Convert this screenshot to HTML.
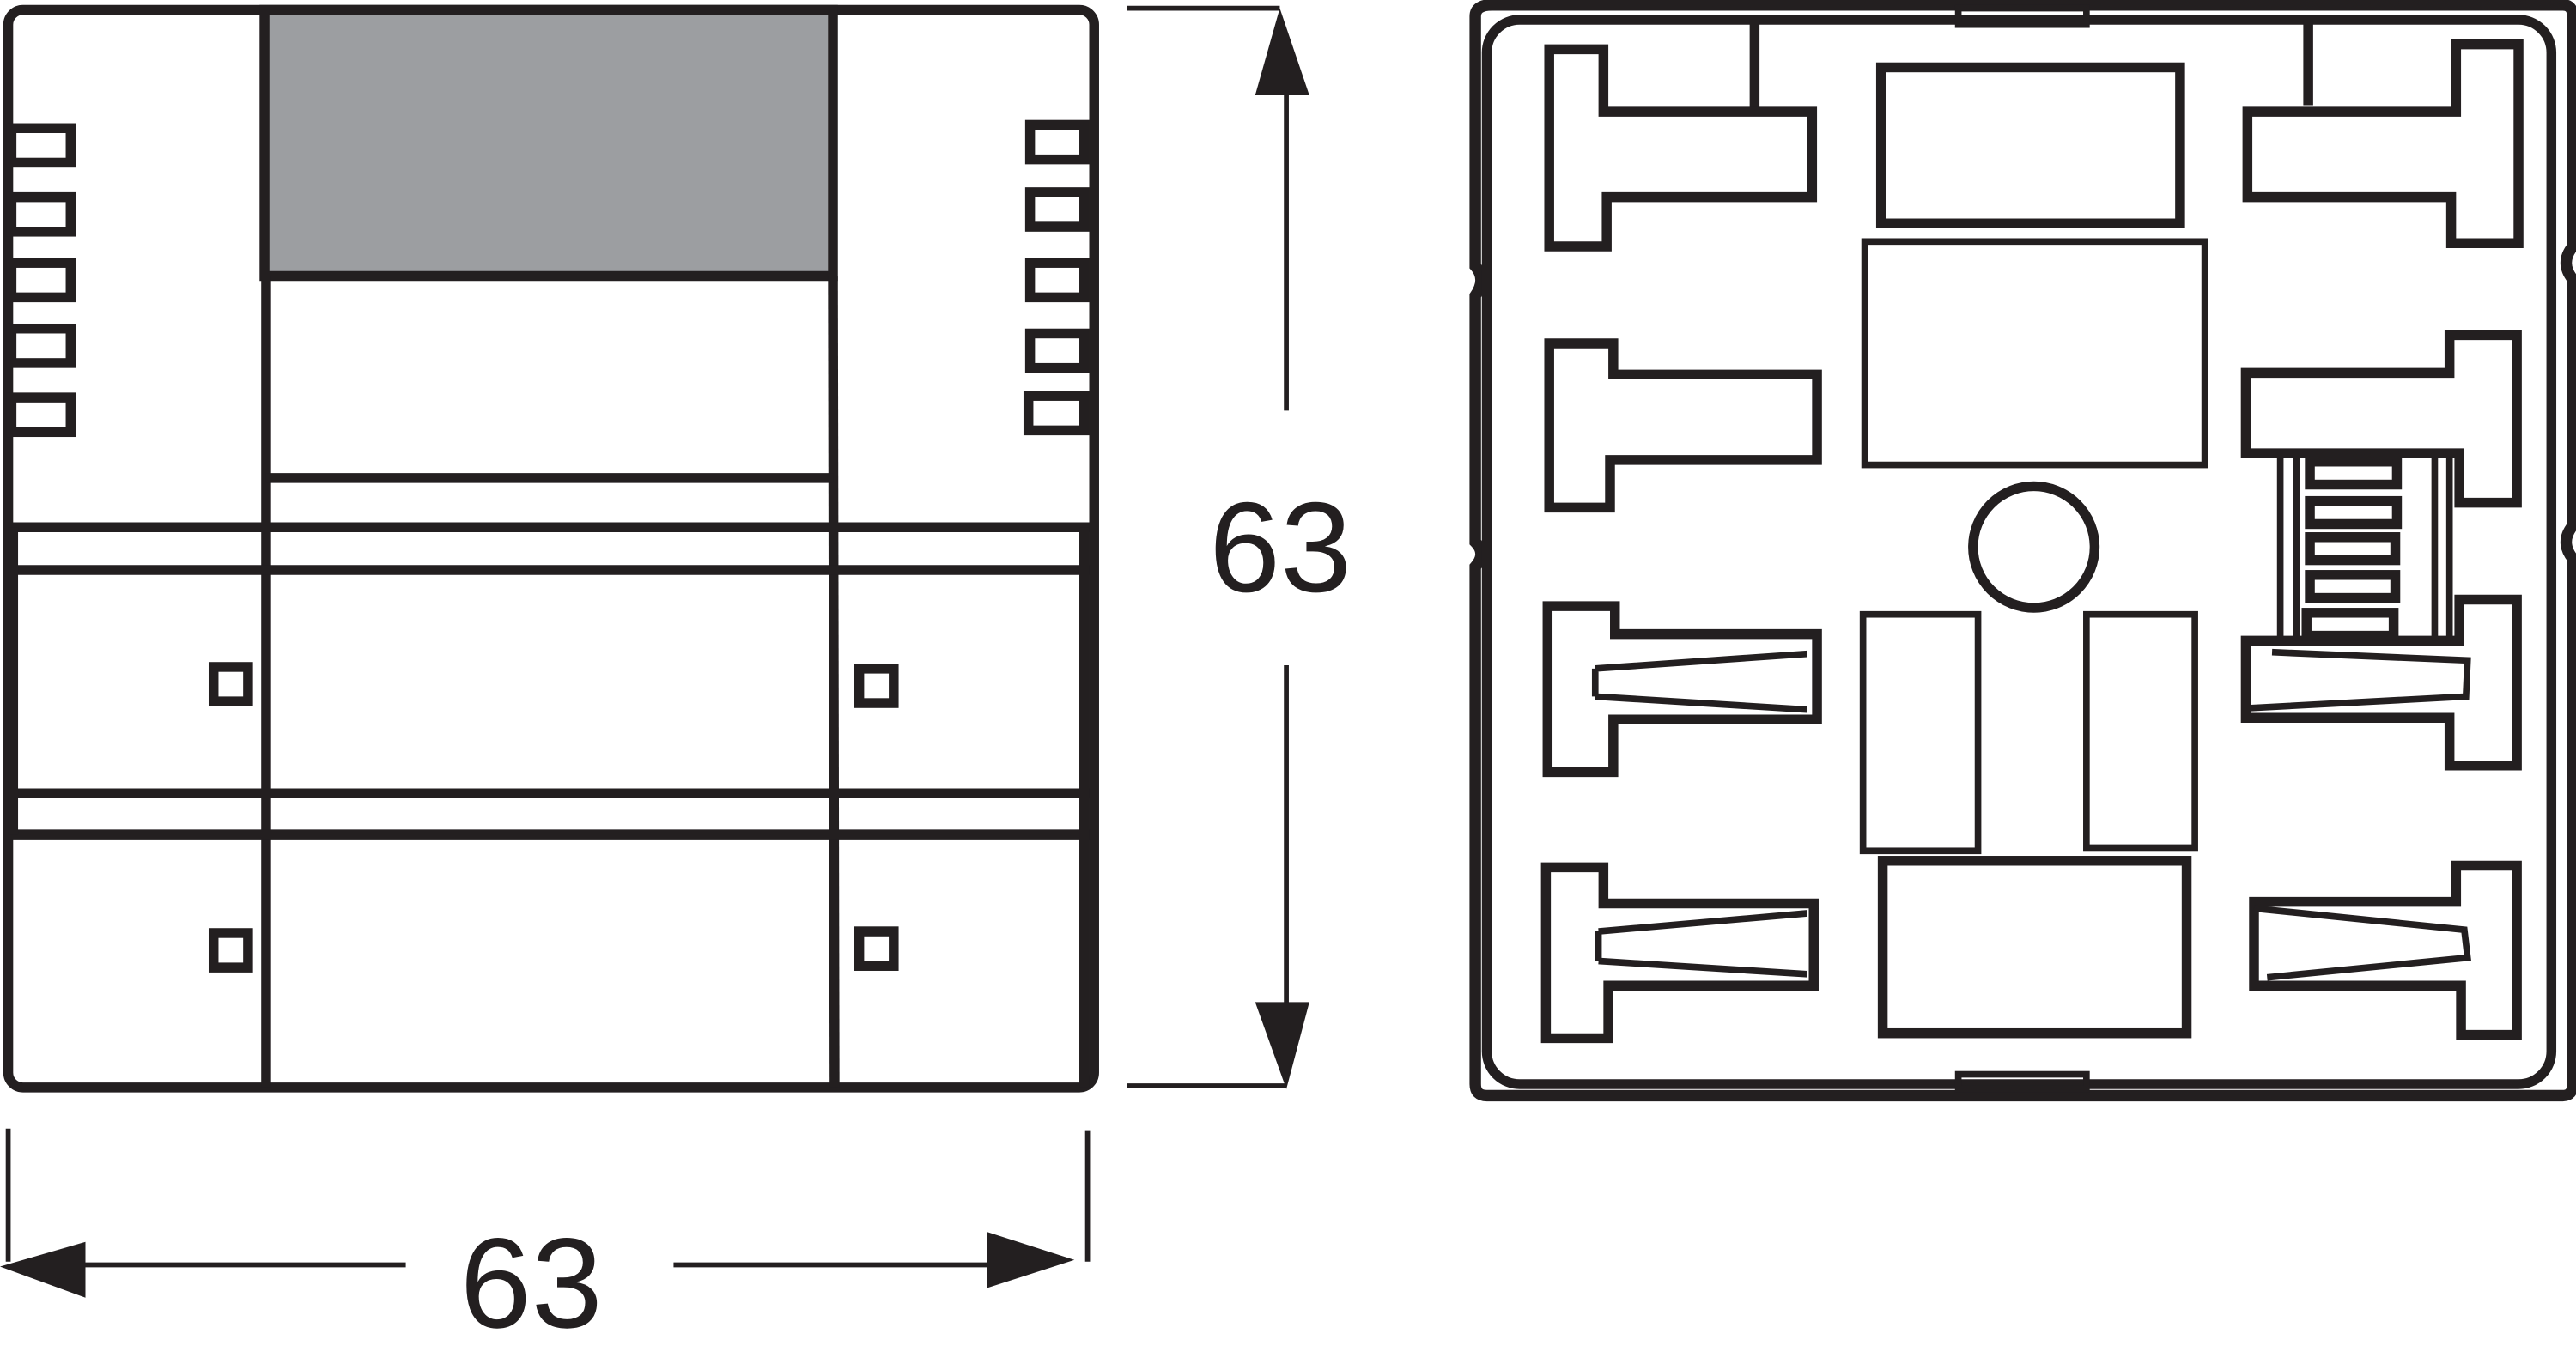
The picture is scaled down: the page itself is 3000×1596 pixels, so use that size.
<!DOCTYPE html>
<html><head><meta charset="utf-8"><style>
html,body{margin:0;padding:0;background:#fff;width:3000px;height:1596px;overflow:hidden}
svg{display:block}
text{font-family:"Liberation Sans",Arial,sans-serif}
</style></head><body>
<svg width="3000" height="1596" viewBox="0 0 1568 834" preserveAspectRatio="none" xmlns="http://www.w3.org/2000/svg">
<g fill="none" stroke="#231f20" stroke-width="6">
<rect x="5" y="6" width="661" height="656" rx="9"/>
<rect x="161" y="6" width="346" height="162" fill="#9c9ea1"/>
<line x1="162" y1="168" x2="162" y2="662"/>
<line x1="507" y1="168" x2="508" y2="662"/>
<line x1="162" y1="291" x2="507" y2="291"/>
<line x1="5" y1="321" x2="664" y2="321"/>
<line x1="5" y1="347" x2="664" y2="347"/>
<line x1="5" y1="483" x2="664" y2="483"/>
<line x1="5" y1="508" x2="664" y2="508"/>
<line x1="8" y1="321" x2="8" y2="508"/>
<line x1="660" y1="321" x2="660" y2="662"/>
<g>
<rect x="7" y="78" width="36" height="21"/><rect x="7" y="120" width="36" height="21"/>
<rect x="7" y="160" width="36" height="21"/><rect x="7" y="200" width="36" height="21"/>
<rect x="7" y="242" width="36" height="21"/>
<rect x="627" y="76" width="33" height="21"/><rect x="627" y="117" width="33" height="21"/>
<rect x="627" y="160" width="33" height="21"/><rect x="627" y="203" width="33" height="21"/>
<rect x="626" y="241" width="34" height="21"/>
<rect x="130" y="406" width="21" height="21"/><rect x="130" y="568" width="21" height="21"/>
<rect x="523" y="407" width="21" height="21"/><rect x="523" y="567" width="21" height="21"/>
</g>
<line x1="686" y1="5" x2="779" y2="5" stroke-width="3"/>
<line x1="686" y1="661" x2="783" y2="661" stroke-width="3"/>
<line x1="783" y1="55" x2="783" y2="250" stroke-width="3"/>
<line x1="783" y1="405" x2="783" y2="612" stroke-width="3"/>
<line x1="5" y1="687" x2="5" y2="768" stroke-width="3"/>
<line x1="662" y1="688" x2="662" y2="768" stroke-width="3"/>
<line x1="50" y1="770" x2="247" y2="770" stroke-width="3"/>
<line x1="410" y1="770" x2="602" y2="770" stroke-width="3"/>
</g>
<g fill="#231f20">
<polygon points="779,5 764,58 797,58"/>
<polygon points="783,663 764,610 797,610"/>
<polygon points="0,771 52,756 52,790"/>
<polygon points="654,767 601,750 601,784"/>
</g>
<text x="736" y="360" font-size="78" fill="#231f20">63</text>
<text x="280" y="808" font-size="78" fill="#231f20">63</text>

<g fill="none" stroke="#231f20" stroke-width="6">
<path d="M908,3 H1560 Q1566,3 1566,10 V150 Q1558,160 1566,170 V320 Q1558,330 1566,340 V660 Q1566,667 1560,667 H905 Q898,667 898,660 V345 Q905,337 898,330 V180 Q905,170 898,162 V10 Q898,3 908,3 Z" stroke-width="7"/>
<rect x="905" y="12" width="648" height="648" rx="20" stroke-width="6"/>
<rect x="1192" y="5" width="78" height="10" stroke-width="4"/>
<rect x="1192" y="654" width="78" height="9" stroke-width="4"/>
<line x1="1068" y1="12" x2="1068" y2="66"/>
<line x1="1405" y1="12" x2="1405" y2="64"/>
<rect x="1145" y="41" width="182" height="95"/>
<rect x="1135" y="147" width="207" height="136" stroke-width="4"/>
<circle cx="1238" cy="333" r="37"/>
<rect x="1134" y="374" width="70" height="144" stroke-width="4"/>
<rect x="1270" y="374" width="66" height="142" stroke-width="4"/>
<rect x="1146" y="524" width="185" height="105"/>
<path d="M943,30 H976 V68 H1103 V120 H978 V150 H943 Z"/>
<path d="M943,209 H982 V228 H1106 V280 H980 V309 H943 Z"/>
<path d="M942,369 H983 V386 H1106 V438 H982 V470 H942 Z"/>
<path d="M971,407 L1100,398 M971,424 L1100,432 M971,407 V424" stroke-width="4"/>
<path d="M941,528 H976 V550 H1104 V600 H979 V632 H941 Z"/>
<path d="M973,567 L1100,556 M973,585 L1100,593 M973,567 V585" stroke-width="4"/>
<path d="M1533,27 H1495 V68 H1368 V120 H1492 V148 H1533 Z"/>
<path d="M1532,204 H1491 V227 H1367 V276 H1497 V306 H1532 Z"/>
<path d="M1532,365 H1497 V390 H1367 V437 H1491 V466 H1532 Z"/>
<path d="M1383,397 L1502,402 L1501,424 L1370,431" stroke-width="4"/>
<path d="M1532,527 H1495 V549 H1372 V600 H1498 V630 H1532 Z"/>
<path d="M1372,553 L1500,566 L1502,583 L1380,595" stroke-width="4"/>
<line x1="1388" y1="278" x2="1388" y2="390" stroke-width="4"/>
<line x1="1398" y1="278" x2="1398" y2="390" stroke-width="4"/>
<line x1="1482" y1="278" x2="1482" y2="390" stroke-width="4"/>
<line x1="1491" y1="278" x2="1491" y2="390" stroke-width="4"/>
<rect x="1406" y="281" width="53" height="14"/>
<rect x="1406" y="305" width="53" height="14"/>
<rect x="1406" y="327" width="52" height="14"/>
<rect x="1406" y="350" width="52" height="14"/>
<rect x="1404" y="373" width="53" height="14"/>
</g>
</svg>
</body></html>
